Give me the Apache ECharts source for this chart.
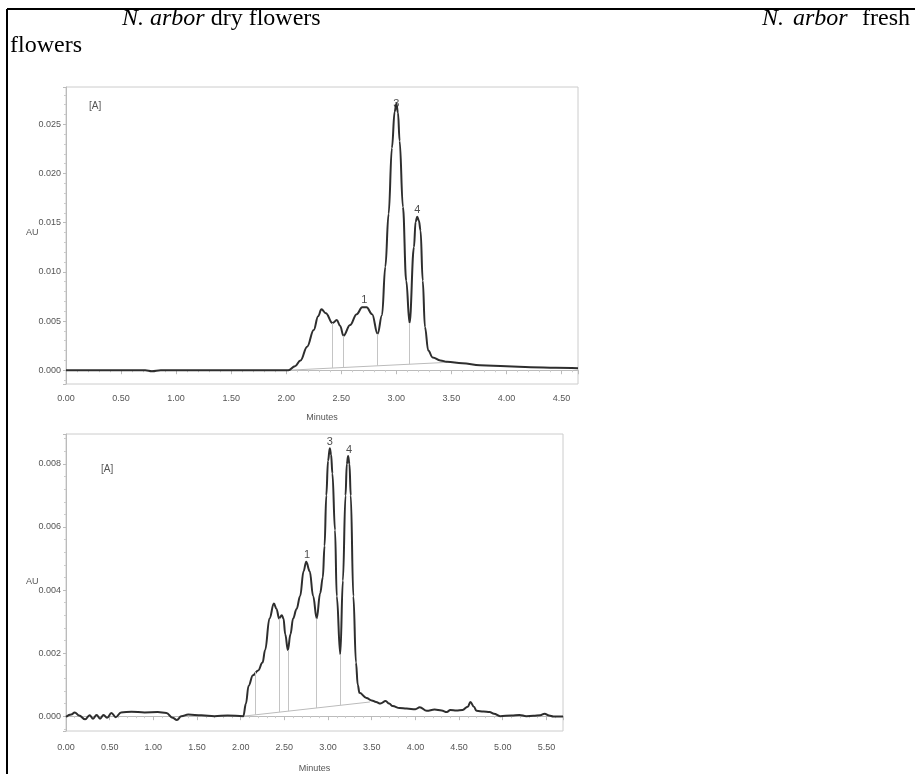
<!DOCTYPE html>
<html>
<head>
<meta charset="utf-8">
<script src="https://cdn.jsdelivr.net/npm/echarts@6/dist/echarts.min.js"></script>
<style>
  html, body { margin: 0; padding: 0; background: #fff; }
  #chart { width: 915px; height: 774px; }
</style>
</head>
<body>
<div id="chart"></div>
<script>
// dry flowers chromatogram (minutes, AU)
var dryTime = [0.00, 0.50, 0.72, 0.78, 0.86, 1.50, 2.02, 2.08, 2.13, 2.19, 2.25, 2.29, 2.32, 2.36, 2.42, 2.46, 2.49, 2.52, 2.58, 2.64, 2.69, 2.73, 2.78, 2.83, 2.87, 2.90, 2.93, 2.96, 2.985, 3.00, 3.015, 3.03, 3.06, 3.09, 3.12, 3.16, 3.175, 3.19, 3.205, 3.22, 3.24, 3.26, 3.29, 3.33, 3.40, 3.46, 3.60, 3.76, 4.00, 4.22, 4.45, 4.65]
var dryAU = [0, 0, 0, -0.0001, 0, 0, 0, 0.0004, 0.0010, 0.0024, 0.0041, 0.0055, 0.0062, 0.0058, 0.0048, 0.0051, 0.0045, 0.0035, 0.0046, 0.0057, 0.0064, 0.0064, 0.0057, 0.0037, 0.0056, 0.0105, 0.0159, 0.0226, 0.0263, 0.0271, 0.0262, 0.0233, 0.0166, 0.0091, 0.0048, 0.0125, 0.0151, 0.0156, 0.0152, 0.0142, 0.0091, 0.0044, 0.0020, 0.0013, 0.0010, 0.00085, 0.0007, 0.0005, 0.0004, 0.0003, 0.00025, 0.0002]
var dryPeakName = ['1', '3', '4']
var dryPeakTime = [2.71, 3.00, 3.19]
var dryPeakAU = [0.0065, 0.0271, 0.0156]
var dryDropTime = [2.42, 2.52, 2.83, 3.12]
var dryDropAU = [0.0048, 0.0035, 0.0037, 0.0048]
var dryBaseTime = [2.02, 3.46]
var dryBaseAU = [0, 0.0008]

// fresh flowers chromatogram (minutes, AU)
var freshTime = [0.00, 0.06, 0.10, 0.15, 0.22, 0.27, 0.31, 0.35, 0.39, 0.43, 0.47, 0.52, 0.57, 0.63, 0.75, 0.90, 1.05, 1.15, 1.22, 1.27, 1.32, 1.40, 1.55, 1.70, 1.85, 2.03, 2.06, 2.09, 2.14, 2.20, 2.25, 2.28, 2.33, 2.38, 2.41, 2.44, 2.47, 2.49, 2.51, 2.54, 2.57, 2.60, 2.64, 2.68, 2.72, 2.75, 2.79, 2.83, 2.87, 2.91, 2.94, 2.96, 2.98, 3.00, 3.02, 3.035, 3.05, 3.08, 3.10, 3.14, 3.17, 3.20, 3.215, 3.23, 3.245, 3.26, 3.29, 3.32, 3.34, 3.36, 3.44, 3.50, 3.55, 3.60, 3.66, 3.70, 3.74, 3.82, 3.90, 4.00, 4.05, 4.13, 4.22, 4.30, 4.36, 4.40, 4.47, 4.54, 4.60, 4.63, 4.67, 4.70, 4.78, 4.85, 4.90, 4.97, 5.10, 5.19, 5.27, 5.35, 5.43, 5.48, 5.53, 5.58, 5.69]
var freshAU = [-0.00002, 0.00005, 0.00012, 0.00002, -0.0001, 0.00003, -0.00008, 0.00004, -0.00008, 0.00004, -0.00005, 0.0001, -0.00003, 0.00012, 0.00014, 0.00012, 0.00013, 0.0001, -0.00005, -0.00012, 0, 0.00005, 0.00003, 0, 0.00002, 0, 0.0004, 0.00096, 0.0013, 0.00145, 0.0017, 0.0021, 0.0031, 0.00357, 0.0034, 0.0031, 0.0032, 0.0031, 0.0026, 0.0021, 0.0026, 0.0031, 0.0034, 0.0038, 0.0046, 0.0049, 0.0046, 0.0038, 0.0031, 0.0039, 0.0044, 0.0054, 0.0070, 0.0081, 0.0085, 0.0083, 0.0077, 0.0059, 0.0038, 0.00196, 0.0043, 0.0070, 0.0080, 0.00825, 0.0080, 0.0070, 0.0038, 0.0017, 0.0010, 0.00074, 0.00058, 0.0005, 0.00045, 0.0004, 0.00048, 0.0004, 0.00032, 0.00026, 0.00024, 0.00022, 0.00028, 0.00017, 0.00021, 0.00018, 0.00013, 0.0002, 0.00018, 0.0002, 0.0003, 0.00045, 0.0003, 0.00017, 0.00015, 0.00013, 0.00008, 0, 0.00002, 0.00004, 0, 0.00001, 0.00003, 0.00008, 0.00002, -0.00001, -0.00001]
var freshPeakName = ['1', '3', '4']
var freshPeakTime = [2.76, 3.02, 3.24]
var freshPeakAU = [0.0049, 0.0085, 0.00825]
var freshDropTime = [2.17, 2.44, 2.54, 2.87, 3.14]
var freshDropAU = [0.0014, 0.0031, 0.0021, 0.0031, 0.00196]
var freshBaseTime = [2.03, 3.48]
var freshBaseAU = [0, 0.00045]

var tickFont = 'Liberation Sans Narrow, Arial Narrow, Liberation Sans, sans-serif'
var serif = 'Liberation Serif, Times New Roman, serif'

function pairs(xs, ys) {
  return xs.map(function (x, i) { return [x, ys[i]] })
}

function baseAt(t, bt, bv) {
  return bv[0] + (bv[1] - bv[0]) * (t - bt[0]) / (bt[1] - bt[0])
}

function dropLines(dt, dv, bt, bv) {
  return dt.map(function (t, i) {
    return [{ coord: [t, baseAt(t, bt, bv)] }, { coord: [t, dv[i]] }]
  })
}

function xAxisCfg(idx, max) {
  return {
    type: 'value', gridIndex: idx, min: 0, max: max, interval: 0.5,
    name: 'Minutes', nameLocation: 'middle', nameGap: idx === 0 ? 29 : 33,
    nameTextStyle: { fontFamily: tickFont, fontSize: 9, color: '#555' },
    axisLine: { lineStyle: { color: '#bbb' } },
    axisTick: { length: 4, lineStyle: { color: '#bbb' } },
    minorTick: { show: true, splitNumber: 5, length: 2, lineStyle: { color: '#ccc' } },
    splitLine: { show: false },
    axisLabel: {
      fontFamily: tickFont, fontSize: 9, color: '#555', margin: idx === 0 ? 10 : 12, showMaxLabel: false,
      formatter: function (v) { return v.toFixed(2) }
    }
  }
}

function yAxisCfg(idx, min, max, split, step) {
  return {
    type: 'value', gridIndex: idx, min: min, max: max, splitNumber: split,
    axisLine: { show: true, lineStyle: { color: '#bbb' } },
    axisTick: { show: true, length: 3, lineStyle: { color: '#bbb' } },
    minorTick: { show: true, splitNumber: 5, length: 2, lineStyle: { color: '#ccc' } },
    splitLine: { show: false },
    axisLabel: {
      fontFamily: tickFont, fontSize: 9, color: '#555', margin: 5,
      showMinLabel: false, showMaxLabel: false,
      formatter: function (v) {
        var k = Math.round(v / step)
        return Math.abs(v - k * step) < step * 0.01 ? v.toFixed(3) : ''
      }
    }
  }
}

function traceSeries(idx, xs, ys) {
  return {
    type: 'line', xAxisIndex: idx, yAxisIndex: idx, data: pairs(xs, ys),
    smooth: 0.4, smoothMonotone: 'x', symbol: 'none',
    lineStyle: { color: '#2e2e2e', width: 2 }, z: 3
  }
}

function baseSeries(idx, bt, bv, dt, dv) {
  return {
    type: 'line', xAxisIndex: idx, yAxisIndex: idx, data: pairs(bt, bv),
    symbol: 'none', lineStyle: { color: '#bbb', width: 1 }, z: 2,
    markLine: {
      silent: true, symbol: 'none', label: { show: false },
      lineStyle: { color: '#c4c4c4', width: 1, type: 'solid' },
      data: dropLines(dt, dv, bt, bv)
    }
  }
}

function peakSeries(idx, names, xs, ys, tallest) {
  return {
    type: 'scatter', xAxisIndex: idx, yAxisIndex: idx, symbolSize: 0,
    data: xs.map(function (x, i) {
      var item = { value: [x, ys[i]], name: names[i] }
      // the label of the tallest peak sits on the peak tip
      if (names[i] === tallest) item.label = { distance: -6 }
      return item
    }),
    label: {
      show: true, position: 'top', distance: 1, formatter: '{b}',
      fontFamily: 'Liberation Sans, sans-serif', fontSize: 11, color: '#222'
    }, z: 4
  }
}

var chart = echarts.init(document.getElementById('chart'))
chart.setOption({
  animation: false,
  grid: [
    { left: 66, right: 337, top: 87, bottom: 390, show: true, borderColor: '#ccc', borderWidth: 1 },
    { left: 66, right: 352, top: 434, bottom: 42, show: true, borderColor: '#ccc', borderWidth: 1 }
  ],
  xAxis: [xAxisCfg(0, 4.65), xAxisCfg(1, 5.69)],
  yAxis: [yAxisCfg(0, -0.0014, 0.0288, 6, 0.005), yAxisCfg(1, -0.00047, 0.00895, 5, 0.002)],
  series: [
    baseSeries(0, dryBaseTime, dryBaseAU, dryDropTime, dryDropAU),
    traceSeries(0, dryTime, dryAU),
    peakSeries(0, dryPeakName, dryPeakTime, dryPeakAU, '3'),
    baseSeries(1, freshBaseTime, freshBaseAU, freshDropTime, freshDropAU),
    traceSeries(1, freshTime, freshAU),
    peakSeries(1, freshPeakName, freshPeakTime, freshPeakAU, null)
  ],
  graphic: [
    { type: 'line', shape: { x1: 7, y1: 9, x2: 915, y2: 9 }, style: { stroke: '#000', lineWidth: 2 } },
    { type: 'line', shape: { x1: 7, y1: 9, x2: 7, y2: 774 }, style: { stroke: '#000', lineWidth: 2 } },
    { type: 'text', left: 122, top: 7, style: {
      text: '{i|N. arbor} dry flowers', font: '24px ' + serif, fill: '#000',
      rich: { i: { fontStyle: 'italic', fontSize: 24, fontFamily: serif } }
    } },
    { type: 'text', left: 762, top: 7, style: { text: 'N.', font: 'italic 24px ' + serif, fill: '#000' } },
    { type: 'text', left: 793, top: 7, style: { text: 'arbor', font: 'italic 24px ' + serif, fill: '#000' } },
    { type: 'text', left: 862, top: 7, style: { text: 'fresh', font: '24px ' + serif, fill: '#000' } },
    { type: 'text', left: 10, top: 34, style: { text: 'flowers', font: '24px ' + serif, fill: '#000' } },
    { type: 'text', left: 89, top: 101, style: { text: '[A]', font: '10px ' + tickFont, fill: '#555' } },
    { type: 'text', left: 101, top: 464, style: { text: '[A]', font: '10px ' + tickFont, fill: '#555' } },
    { type: 'text', left: 26, top: 228, style: { text: 'AU', font: '9px ' + tickFont, fill: '#555' } },
    { type: 'text', left: 26, top: 577, style: { text: 'AU', font: '9px ' + tickFont, fill: '#555' } }
  ]
})
</script>
</body>
</html>
